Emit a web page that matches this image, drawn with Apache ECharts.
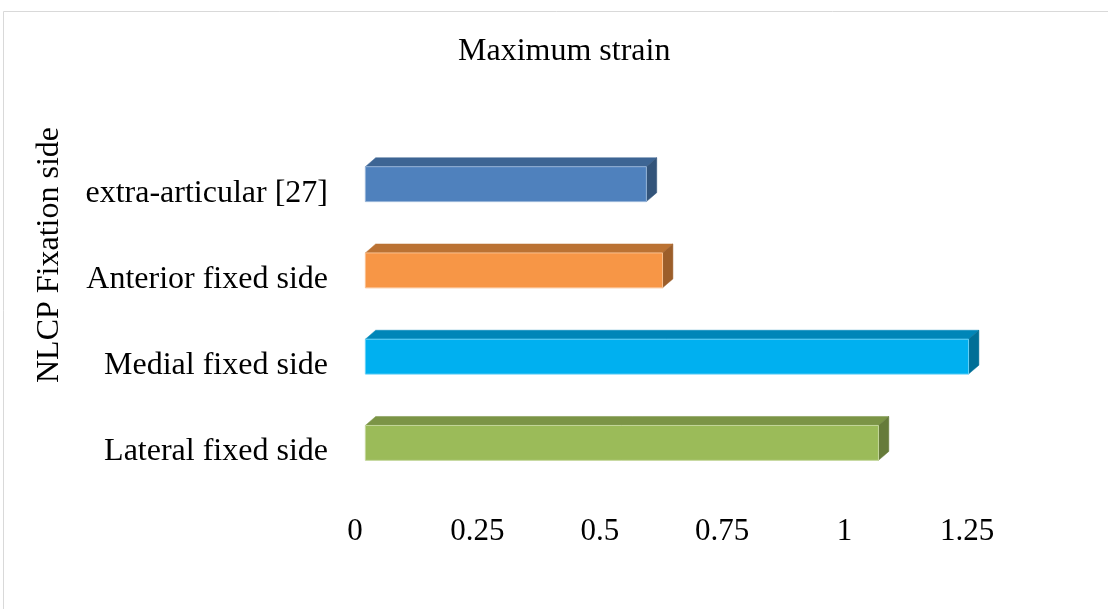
<!DOCTYPE html>
<html>
<head>
<meta charset="utf-8">
<script src="https://cdn.jsdelivr.net/npm/echarts@6/dist/echarts.min.js"></script>
<style>
  html, body { margin: 0; padding: 0; background: #fff; }
  #chart { width: 1108px; height: 609px; }
</style>
</head>
<body>
<div id="chart"></div>
<script>
// categories bottom -> top, as the bar chart lists them
const categories = ['Lateral fixed side', 'Medial fixed side', 'Anterior fixed side', 'extra-articular [27]'];
const strainValues = [1.048, 1.232, 0.607, 0.574];
const xTicks = [0, 0.25, 0.5, 0.75, 1, 1.25];

// front / top / side colours per bar
const faceColors = [
  { front: '#9BBB59', top: '#7B9446', side: '#667B3A', edge: '#C4D79B' },
  { front: '#00B0F0', top: '#0086B8', side: '#006F97', edge: '#66D0F6' },
  { front: '#F79646', top: '#BB7233', side: '#9C5E2A', edge: '#FAC090' },
  { front: '#4F81BD', top: '#3D6594', side: '#33547A', edge: '#95B3D7' },
];

const FONT = "'Liberation Serif', 'Times New Roman', serif";

const chart = echarts.init(document.getElementById('chart'));

function renderBar(params, api) {
  const idx = api.value(0);
  const val = api.value(1);
  const p0 = api.coord([0, idx]);
  const p1 = api.coord([val, idx]);
  const band = api.size([0, 1])[1];
  const h = band * 0.405;
  // depth step of the 3D projection
  const dx = band * 0.12;
  const dy = -band * 0.104;
  const c = faceColors[idx];
  // bars sit one depth step behind the floor front edge
  const xl = p0[0] + dx;
  const xr = p1[0] + dx;
  const yt = p0[1] + dy - h / 2;
  const yb = yt + h;
  return {
    type: 'group',
    children: [
      {
        type: 'polygon',
        shape: { points: [[xl, yt], [xr, yt], [xr + dx, yt + dy], [xl + dx, yt + dy]] },
        style: { fill: c.top, stroke: c.top, lineWidth: 0.5 },
      },
      {
        type: 'polygon',
        shape: { points: [[xr, yt], [xr + dx, yt + dy], [xr + dx, yb + dy], [xr, yb]] },
        style: { fill: c.side, stroke: c.side, lineWidth: 0.5 },
      },
      {
        type: 'rect',
        shape: { x: xl, y: yt, width: xr - xl, height: h },
        style: { fill: c.front, stroke: c.edge, lineWidth: 1 },
      },
    ],
  };
}

const option = {
  backgroundColor: '#fff',
  animation: false,
  title: {
    text: 'Maximum strain',
    left: 453,
    top: 31,
    textStyle: { fontFamily: FONT, fontSize: 32, fontWeight: 'normal', color: '#000' },
  },
  graphic: [
    {
      type: 'rect',
      shape: { x: 3.5, y: 11.5, width: 1200, height: 700 },
      style: { fill: 'none', stroke: '#d9d9d9', lineWidth: 1 },
      silent: true,
    },
    {
      type: 'text',
      x: 50,
      y: 255,
      rotation: Math.PI / 2,
      style: {
        text: 'NLCP Fixation side',
        font: '32px ' + FONT,
        fill: '#000',
        textAlign: 'center',
        textVerticalAlign: 'middle',
      },
    },
  ],
  grid: {
    left: 355,
    width: 612,
    top: 150,
    height: 345,
  },
  xAxis: {
    type: 'value',
    min: xTicks[0],
    max: xTicks[xTicks.length - 1],
    interval: 0.25,
    axisLine: { show: false },
    axisTick: { show: false },
    splitLine: { show: false },
    axisLabel: {
      margin: 21,
      fontFamily: FONT,
      fontSize: 31,
      color: '#000',
    },
  },
  yAxis: {
    type: 'category',
    data: categories,
    axisLine: { show: false },
    axisTick: { show: false },
    splitLine: { show: false },
    axisLabel: {
      margin: 27,
      padding: [7, 0, 0, 0],
      fontFamily: FONT,
      fontSize: 32,
      color: '#000',
    },
  },
  series: [
    {
      type: 'custom',
      renderItem: renderBar,
      encode: { x: 1, y: 0 },
      data: strainValues.map((v, i) => [i, v]),
    },
  ],
};

chart.setOption(option);
</script>
</body>
</html>
